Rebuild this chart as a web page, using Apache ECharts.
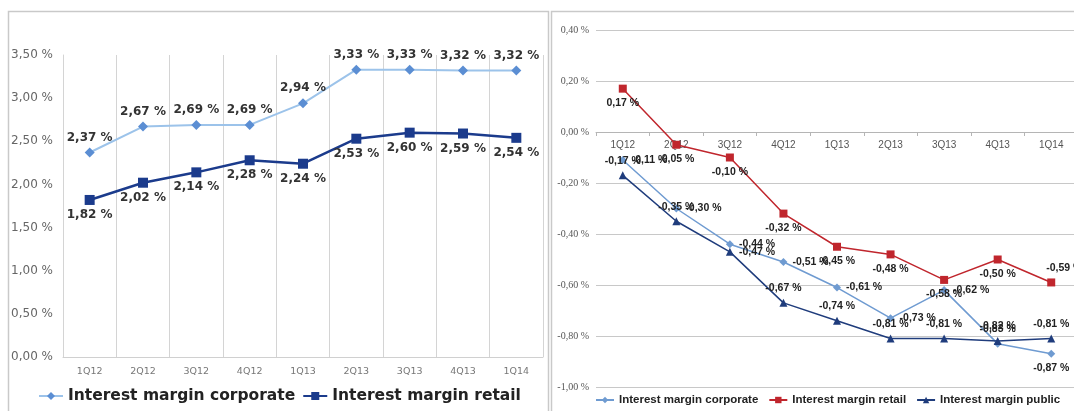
<!DOCTYPE html>
<html><head><meta charset="utf-8">
<script src="https://cdn.jsdelivr.net/npm/echarts@6/dist/echarts.min.js"></script>
<style>
html,body{margin:0;padding:0;width:1074px;height:411px;overflow:hidden;background:#fff;position:relative}
#c1{position:absolute;left:0;top:0;width:550px;height:411px}
#c2{position:absolute;left:550px;top:0;width:540px;height:411px}
</style></head><body><div id="c1"></div><div id="c2"></div>
<script>
// ---- data ----
const quarters = ['1Q12','2Q12','3Q12','4Q12','1Q13','2Q13','3Q13','4Q13','1Q14'];
const leftCorporate = [2.37, 2.67, 2.69, 2.69, 2.94, 3.33, 3.33, 3.32, 3.32];
const leftRetail    = [1.82, 2.02, 2.14, 2.28, 2.24, 2.53, 2.60, 2.59, 2.54];
const rightCorporate = [-0.11, -0.30, -0.44, -0.51, -0.61, -0.73, -0.62, -0.83, -0.87];
const rightRetail    = [0.17, -0.05, -0.10, -0.32, -0.45, -0.48, -0.58, -0.50, -0.59];
const rightPublic    = [-0.17, -0.35, -0.47, -0.67, -0.74, -0.81, -0.81, -0.82, -0.81];
const leftAxisMin = 0, leftAxisMax = 3.5, leftAxisStep = 0.5;
const rightAxisMin = -1.0, rightAxisMax = 0.4, rightAxisStep = 0.2;
const nameCorporate = 'Interest margin corporate';
const nameRetail = 'Interest margin retail';
const namePublic = 'Interest margin public';

const fmt = v => v.toFixed(2).replace('.', ',') + ' %';

// ---- left chart ----
const c1 = echarts.init(document.getElementById('c1'), null, {renderer: 'canvas'});
const leftLabel = {
  show: true, formatter: p => fmt(p.value), fontFamily: 'DejaVu Sans',
  fontWeight: 'bold', fontSize: 12, color: '#333', distance: 4
};
c1.setOption({
  animation: false,
  graphic: [{type: 'rect', shape: {x: 8.5, y: 11.5, width: 540, height: 430},
             style: {fill: 'none', stroke: '#c9c9c9', lineWidth: 1.5}, silent: true}],
  grid: {left: 63, top: 55, width: 480, height: 302},
  legend: {
    left: 33, top: 383, itemWidth: 24, itemHeight: 10, itemGap: 7,
    data: [nameCorporate, nameRetail],
    textStyle: {fontFamily: 'DejaVu Sans', fontWeight: 'bold', fontSize: 15.5, color: '#222'}
  },
  xAxis: {
    type: 'category', data: quarters, boundaryGap: true,
    axisLine: {lineStyle: {color: '#d0d0d0'}}, axisTick: {show: false},
    axisLabel: {color: '#777', fontSize: 9.5, fontFamily: 'DejaVu Sans', margin: 10},
    splitLine: {show: true, lineStyle: {color: '#d4d4d4'}}
  },
  yAxis: {
    type: 'value', min: leftAxisMin, max: leftAxisMax, interval: leftAxisStep,
    axisLine: {show: true, lineStyle: {color: '#d4d4d4'}}, axisTick: {show: false},
    splitLine: {show: false},
    axisLabel: {formatter: fmt, color: '#666', fontSize: 12, fontFamily: 'DejaVu Sans', margin: 10}
  },
  series: [
    {name: nameCorporate, type: 'line', data: leftCorporate, symbol: 'diamond', symbolSize: 10,
     itemStyle: {color: '#5b8ed3'}, lineStyle: {color: '#9cc3ea', width: 2},
     label: Object.assign({position: 'top'}, leftLabel)},
    {name: nameRetail, type: 'line', data: leftRetail, symbol: 'rect', symbolSize: 10,
     itemStyle: {color: '#1b3b8c'}, lineStyle: {color: '#1b3b8c', width: 2.5},
     label: Object.assign({position: 'bottom'}, leftLabel)}
  ]
});

// ---- right chart ----
const c2 = echarts.init(document.getElementById('c2'), null, {renderer: 'canvas'});
const rightLabel = {
  show: true, formatter: p => fmt(p.value), fontFamily: 'Liberation Sans',
  fontWeight: 'bold', fontSize: 10.5, color: '#222', distance: 5
};
const corpPos = ['right','right','right','right','right','right','right','top','bottom'];
const retailPos = ['bottom','bottom','bottom','bottom','bottom','bottom','bottom','bottom','top'];
const publicPos = ['top','top','right','top','top','top','top','top','top'];
const withPos = (vals, pos, extra) => vals.map((v, i) => ({
  value: v, label: Object.assign({position: pos[i]}, (extra && extra[i]) || {})
}));
const rGridTop = 30, rGridH = 357;
const zeroOffset = -rGridH * (0 - rightAxisMin) / (rightAxisMax - rightAxisMin);
c2.setOption({
  animation: false,
  graphic: [{type: 'rect', shape: {x: 1.5, y: 11.5, width: 600, height: 430},
             style: {fill: 'none', stroke: '#c9c9c9', lineWidth: 1.5}, silent: true}],
  grid: {left: 46, top: rGridTop, width: 482, height: rGridH},
  legend: {
    left: 40, top: 389, itemWidth: 18, itemHeight: 8, itemGap: 10,
    data: [nameCorporate, nameRetail, namePublic],
    textStyle: {fontFamily: 'Liberation Sans', fontWeight: 'bold', fontSize: 11.5, color: '#222'}
  },
  xAxis: {
    type: 'category', data: quarters, boundaryGap: true, position: 'bottom',
    offset: zeroOffset,
    axisLine: {onZero: false, lineStyle: {color: '#b5b5b5'}},
    axisTick: {show: true, length: 4, lineStyle: {color: '#b5b5b5'}},
    axisLabel: {color: '#555', fontSize: 10, fontFamily: 'Liberation Sans', margin: 8},
    splitLine: {show: false}
  },
  yAxis: {
    type: 'value', min: rightAxisMin, max: rightAxisMax, interval: rightAxisStep,
    axisLine: {show: false}, axisTick: {show: false},
    splitLine: {show: true, lineStyle: {color: '#c8c8c8'}},
    axisLabel: {formatter: fmt, color: '#555', fontSize: 10, fontFamily: 'Liberation Serif', margin: 7}
  },
  series: [
    {name: nameCorporate, type: 'line', data: withPos(rightCorporate, corpPos),
     symbol: 'diamond', symbolSize: 8,
     itemStyle: {color: '#6f9bd1'}, lineStyle: {color: '#6f9bd1', width: 1.5},
     label: rightLabel},
    {name: nameRetail, type: 'line',
     data: withPos(rightRetail, retailPos, {8: {offset: [13, 0]}}),
     symbol: 'rect', symbolSize: 8,
     itemStyle: {color: '#c0262d'}, lineStyle: {color: '#c0262d', width: 1.5},
     label: rightLabel},
    {name: namePublic, type: 'line', data: withPos(rightPublic, publicPos),
     symbol: 'triangle', symbolSize: 8,
     itemStyle: {color: '#1f3c7c'}, lineStyle: {color: '#1f3c7c', width: 1.5},
     label: rightLabel}
  ]
});
</script></body></html>
